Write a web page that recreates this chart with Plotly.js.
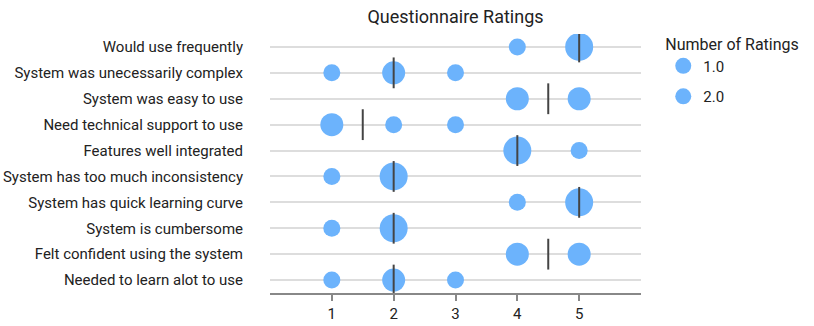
<!DOCTYPE html>
<html>
<head>
<meta charset="utf-8">
<script src="https://cdn.plot.ly/plotly-3.0.1.min.js"></script>
<style>body{margin:0;} #chart{width:814px;height:326px;}</style>
</head>
<body>
<div id="chart"></div>
<script>
// questions, top to bottom
let questions = [
  "Would use frequently",
  "System was unecessarily complex",
  "System was easy to use",
  "Need technical support to use",
  "Features well integrated",
  "System has too much inconsistency",
  "System has quick learning curve",
  "System is cumbersome",
  "Felt confident using the system",
  "Needed to learn alot to use"
];
let ratings = [1, 2, 3, 4, 5];
// number of answers per rating (1..5) for each question
let counts = [
  [0, 0, 0, 1, 3],
  [1, 2, 1, 0, 0],
  [0, 0, 0, 2, 2],
  [2, 1, 1, 0, 0],
  [0, 0, 0, 3, 1],
  [1, 3, 0, 0, 0],
  [0, 0, 0, 1, 3],
  [1, 3, 0, 0, 0],
  [0, 0, 0, 2, 2],
  [1, 2, 1, 0, 0]
];
let medians = [5, 2, 4.5, 1.5, 4, 2, 5, 2, 4.5, 2];

let sizeFor = {1: 17, 2: 23, 3: 28};
let blue = "#6cb3fc";

var data = [];
[1, 2, 3].forEach(function (n) {
  let xs = [], ys = [];
  for (let i = 0; i < questions.length; i++) {
    for (let j = 0; j < ratings.length; j++) {
      if (counts[i][j] === n) { xs.push(ratings[j]); ys.push(questions[i]); }
    }
  }
  data.push({
    x: xs, y: ys,
    type: "scatter", mode: "markers",
    name: n.toFixed(1),
    legendgroup: "g" + n,
    showlegend: n < 3,
    marker: {color: blue, size: sizeFor[n], line: {width: 0}},
    hoverinfo: "x+y"
  });
});
data.push({
  x: medians, y: questions,
  type: "scatter", mode: "markers",
  showlegend: false,
  marker: {symbol: "line-ns", size: 22, line: {width: 2, color: "#444"}},
  hoverinfo: "x"
});

var layout = {
  width: 814, height: 326,
  font: {family: "Roboto, sans-serif", size: 15, color: "#222"},
  title: {text: "Questionnaire Ratings", x: 0.5, xref: "paper", y: 0.95, yanchor: "middle", font: {size: 18}},
  margin: {l: 270, r: 173, t: 34, b: 33},
  xaxis: {
    range: [0, 6], tickvals: ratings, showgrid: false, zeroline: false,
    showline: true, linecolor: "#888", linewidth: 1.5,
    ticks: "outside", ticklen: 6, tickcolor: "#888", tickwidth: 1.5,
    tickfont: {size: 15}
  },
  yaxis: {
    type: "category", categoryorder: "array", categoryarray: questions,
    range: [9.5, -0.5], showgrid: true, gridcolor: "#ddd", gridwidth: 1.5,
    zeroline: false, showline: false, ticks: "", ticklabelstandoff: 26,
    tickfont: {size: 15}
  },
  showlegend: true,
  legend: {
    title: {text: "Number of Ratings", font: {size: 16}},
    x: 1.06, xanchor: "left", y: 1.02, yanchor: "top",
    itemsizing: "trace", font: {size: 15},
    traceorder: "grouped", tracegroupgap: 8
  },
  plot_bgcolor: "white", paper_bgcolor: "white"
};

Plotly.newPlot("chart", data, layout, {displayModeBar: false});
</script>
</body>
</html>
